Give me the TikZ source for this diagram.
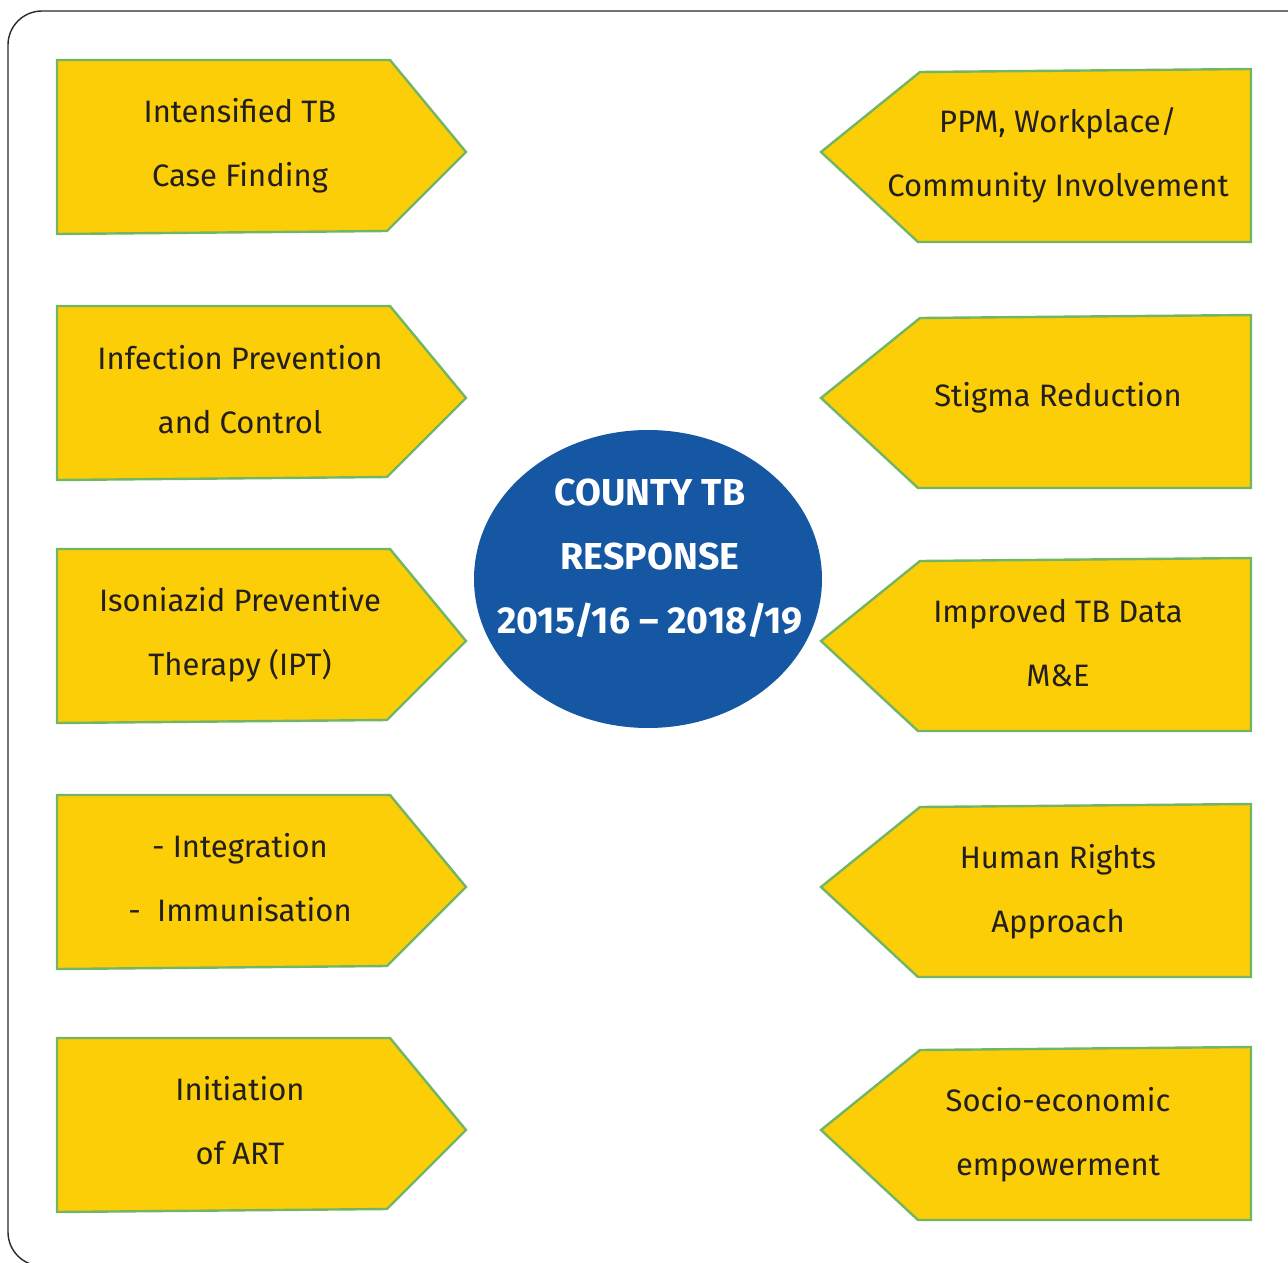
\documentclass[tikz,border=0pt]{standalone}
\usepackage{fontspec}
\usetikzlibrary{shapes.geometric}
\setmainfont{Fira Sans}
\definecolor{tbyellow}{HTML}{FBCE07}
\definecolor{tbgreen}{HTML}{72B565}
\definecolor{tbblue}{HTML}{1657A3}
\definecolor{tbtext}{HTML}{231F20}
\definecolor{frame}{HTML}{2A2A2A}
\begin{document}
\begin{tikzpicture}[x=1pt,y=-1pt,
  arrowbox/.style={fill=tbyellow,draw=tbgreen,line width=2.4pt,line join=miter},
  label/.style={align=center,text=tbtext,font=\fontsize{31}{64}\selectfont},
  hub/.style={align=center,text=white,font=\bfseries\fontsize{37.5}{64}\selectfont}]
\useasboundingbox (0,0) rectangle (1288,1263);
\begin{scope}
\clip (0,0) rectangle (1288,1263);
\draw[frame,line width=1.4pt,rounded corners=34] (1300,11) -- (8,11) -- (8,1266) -- (1300,1266);
\end{scope}
% left shapes
\foreach \t in {60,306,549,795,1038}{
  \draw[arrowbox] (57,\t) -- (390,\t) -- (466,\t+92) -- (387,\t+171) -- (57,\t+174) -- cycle;
}
% right shapes
\foreach \t in {69,315,558,804,1047}{
  \draw[arrowbox] (1251,\t) -- (1251,\t+173) -- (918,\t+173) -- (821,\t+83) -- (920,\t+3) -- cycle;
}
% hub
\node[ellipse,minimum width=348,minimum height=298,fill=tbblue,inner sep=0] (hub) at (648,579) {};
\node[hub] (hubtext) at (650,558) {COUNTY TB\\RESPONSE\\2015/16 – 2018/19};
% left labels
\node[label] (l1) at (240,146) {Intensified TB\\Case Finding};
\node[label] (l2) at (240,390) {Infection Prevention\\and Control};
\node[label] (l3) at (240,635) {Isoniazid Preventive\\Therapy (IPT)};
\node[label] (l4) at (240,878) {- Integration\\-\ \ Immunisation};
\node[label] (l5) at (240,1121) {Initiation\\of ART};
% right labels
\node[label] (r1) at (1058,155) {PPM, Workplace/\\Community Involvement};
\node[label] (r2) at (1058,398) {Stigma Reduction};
\node[label] (r3) at (1058,643) {Improved TB Data\\M\&E};
\node[label] (r4) at (1058,892) {Human Rights\\Approach};
\node[label] (r5) at (1058,1135) {Socio-economic\\empowerment};
\end{tikzpicture}
\end{document}
